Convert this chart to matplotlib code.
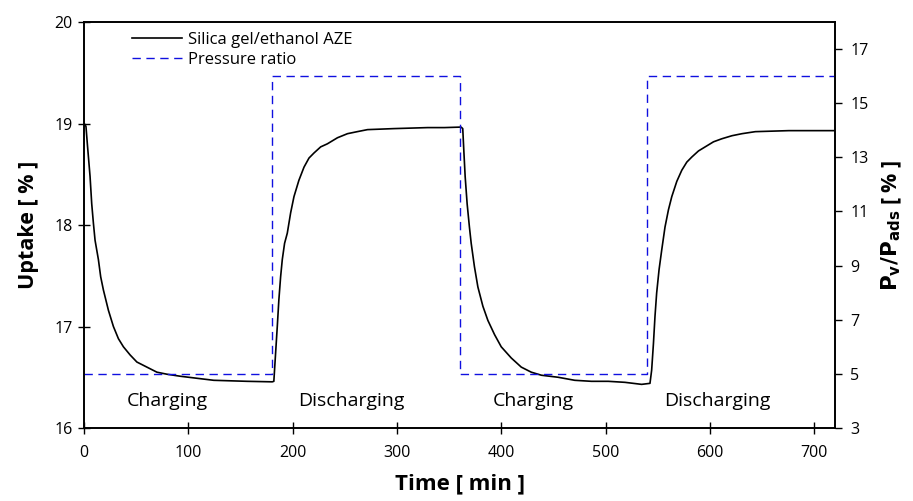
import matplotlib
matplotlib.use("Agg")
import matplotlib.pyplot as plt

plt.rcParams['font.family'] = ['Open Sans', 'DejaVu Sans']

# Uptake curve (silica gel / ethanol AZE)
time_min = [0, 1, 1.9, 3.2, 4.5, 5.8, 7.4, 9.0, 10.6, 13.8, 16, 18.6, 23.4, 28.2, 33, 37.8, 44.2,
            50.7, 60.3, 69.9, 79.5, 92.3, 108.3, 124.4, 156.4, 180.5,
            182.0, 183.7, 185.3, 186.8, 188.5, 190.1, 192.3, 194.9, 198.1, 201.3, 206, 210.9,
            215.7, 220.5, 226.9, 233.3, 243, 252.6, 262, 271.8, 284.6, 297, 313.5, 329.5,
            345.5, 361.5,
            363.1, 364.1, 365.4, 367.3, 369.5, 371.2, 374.3, 377.6, 382.4, 387.2, 393.6, 400,
            409.6, 419.2, 428.8, 438.5, 454.5, 470.5, 486.5, 502.6, 518.6, 534.6, 542.6,
            544.2, 545.9, 547.4, 549, 551.3, 553.8, 557, 560.3, 563.5, 568.3, 573.1, 577.9,
            582.7, 589.1, 595.5, 603.5, 611.5, 621.2, 630.8, 643.6, 659.6, 675.7, 720]
uptake = [19.0, 18.99, 18.97, 18.80, 18.64, 18.48, 18.21, 18.02, 17.85, 17.66, 17.49, 17.36, 17.16,
          17.0, 16.88, 16.80, 16.72, 16.65, 16.60, 16.55, 16.53, 16.51, 16.49, 16.47, 16.46, 16.455,
          16.46, 16.74, 17.0, 17.26, 17.49, 17.66, 17.82, 17.92, 18.12, 18.28, 18.44, 18.57,
          18.66, 18.71, 18.77, 18.80, 18.86, 18.90, 18.92, 18.94, 18.945, 18.95, 18.955, 18.96,
          18.96, 18.965,
          18.95, 18.74, 18.48, 18.21, 17.98, 17.82, 17.59, 17.39, 17.20, 17.06, 16.92, 16.80,
          16.69, 16.60, 16.55, 16.52, 16.50, 16.47, 16.46, 16.46, 16.45, 16.43, 16.44,
          16.57, 16.83, 17.10, 17.33, 17.56, 17.75, 17.98, 18.15, 18.28, 18.43, 18.54, 18.62,
          18.67, 18.73, 18.77, 18.82, 18.85, 18.88, 18.90, 18.92, 18.925, 18.93, 18.93]

# Pressure ratio (step profile)
p_time = [0, 180, 180, 360, 360, 540, 540, 720]
p_ratio = [5, 5, 16, 16, 5, 5, 16, 16]

phase_labels = ["Charging", "Discharging", "Charging", "Discharging"]
phase_centers = [80, 256, 431, 607]

fig = plt.figure(figsize=(9.13, 5.01), dpi=100)
ax = fig.add_axes([0.092, 0.1457, 0.8226, 0.8103])
ax2 = ax.twinx()

l1, = ax.plot(time_min, uptake, color='black', lw=1.2, label='Silica gel/ethanol AZE')
l2, = ax2.plot(p_time, p_ratio, color='#1010E0', lw=1.0, ls=(0, (6, 4)), label='Pressure ratio')

ax.set_xlim(0, 720)
ax.set_ylim(16, 20)
ax2.set_ylim(3, 18)
ax.set_xticks([0, 100, 200, 300, 400, 500, 600, 700])
ax.set_yticks([16, 17, 18, 19, 20])
ax2.set_yticks([3, 5, 7, 9, 11, 13, 15, 17])

ax.tick_params(axis='both', direction='inout', length=8, width=1.0, labelsize=11.5)
ax.tick_params(axis='x', pad=8)
ax.tick_params(axis='y', pad=4)
ax2.tick_params(axis='y', direction='out', length=5, width=1.0, labelsize=11.5, pad=6)

for a in (ax, ax2):
    for s in a.spines.values():
        s.set_linewidth(1.2)

ax.set_xlabel('Time [ min ]', fontsize=16, fontweight='bold', labelpad=9)
ax.set_ylabel('Uptake [ % ]', fontsize=15.5, fontweight='bold', labelpad=11)
ax2.set_ylabel(r'$\mathbf{P_v/P_{ads}}$ [ % ]', fontsize=15.5, fontweight='bold', labelpad=8)

for lab, c in zip(phase_labels, phase_centers):
    ax.text(c, 16.27, lab, ha='center', va='center', fontsize=14)

ax.legend(handles=[l1, l2], loc='upper left', bbox_to_anchor=(0.05, 1.0), frameon=False,
          fontsize=12, handlelength=3.0, handletextpad=0.4, labelspacing=0.25, borderaxespad=0.2)

fig.savefig('out.png', dpi=100)
